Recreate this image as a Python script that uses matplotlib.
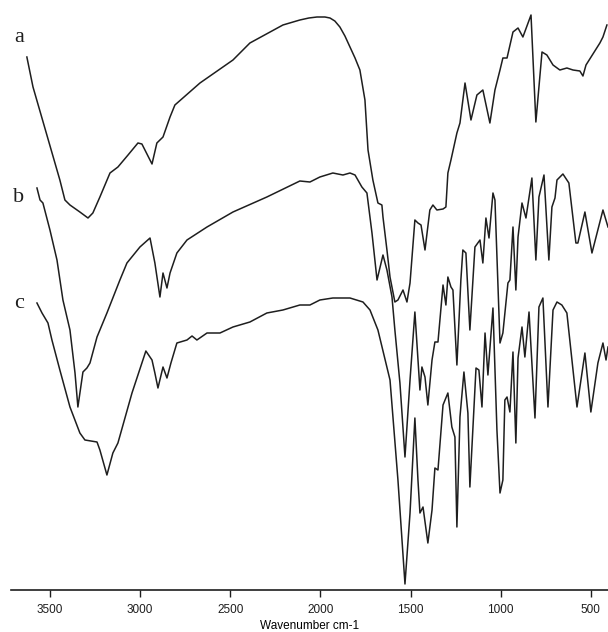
import matplotlib
matplotlib.use("Agg")
import matplotlib.pyplot as plt
import numpy as np

# FTIR spectra, wavenumber (cm-1) and transmittance (arbitrary units, offset)
wn_a = [3628, 3594, 3445, 3417, 3389, 3334, 3289, 3262, 3223, 3167, 3123, 3067,
        3012, 2990, 2934, 2907, 2873, 2834, 2807, 2668, 2485, 2391, 2208, 2114,
        2064, 2019, 1975, 1947, 1920, 1892, 1864, 1836, 1808, 1781, 1753, 1736,
        1709, 1681, 1659, 1653, 1631,
        1614, 1587, 1570, 1542, 1520, 1503, 1476, 1459, 1442, 1420, 1393, 1376,
        1354, 1320, 1304, 1293, 1276, 1243, 1226, 1198, 1165, 1132, 1099, 1060,
        1032, 1004, 988, 965, 932, 904, 877, 832, 805, 771, 744, 710, 672, 633,
        599, 561, 544, 527, 450, 433, 411]
t_a = [533, 503, 410, 390, 385, 378, 372, 377, 393, 417, 423, 435,
       447, 446, 426, 447, 453, 473, 485, 507, 530, 547, 565, 570,
       572, 573, 573, 572, 569, 563, 554, 543, 532, 520, 490, 440,
       410, 387, 385, 373, 340,
       313, 288, 290, 300, 288, 307, 370, 367, 365, 340, 380, 385,
       380, 381, 383, 417, 430, 457, 467, 507, 470, 495, 500, 467,
       500, 520, 532, 532, 558, 562, 553, 575, 468, 538, 535, 525, 520, 522,
       520, 519, 514, 525, 547, 553, 565]

wn_b = [3572, 3555, 3539, 3500, 3461, 3428, 3389, 3361, 3345, 3317, 3295, 3278,
        3239, 3184, 3112, 3073, 3001, 2945, 2918, 2890, 2873, 2851, 2834, 2796,
        2740, 2629, 2485, 2297, 2114, 2058, 2003, 1931, 1875, 1836, 1808, 1770,
        1742, 1714, 1686, 1653, 1631, 1603, 1587, 1559, 1531, 1503, 1476, 1448,
        1437, 1420, 1404, 1381, 1365, 1348, 1320, 1304, 1293, 1276, 1265, 1243,
        1221, 1210, 1193, 1171, 1143, 1115, 1099, 1082, 1065, 1043, 1032, 1004,
        988, 960, 949, 932, 916, 904, 882, 860, 827, 805, 788, 760, 733, 716,
        699, 688, 655, 622, 583, 572, 533, 494, 433, 405]
t_b = [402, 390, 387, 360, 330, 290, 260, 217, 183, 218, 222, 227,
       253, 277, 310, 327, 343, 352, 327, 293, 317, 302, 317, 337,
       350, 363, 378, 393, 409, 408, 413, 417, 415, 417, 415, 403,
       397, 357, 310, 335, 320, 293, 260, 207, 133, 210, 278, 200,
       223, 213, 185, 230, 248, 248, 305, 285, 313, 303, 300, 225,
       310, 340, 337, 260, 343, 350, 327, 372, 352, 397, 390, 247,
       257, 307, 310, 363, 300, 353, 387, 372, 412, 330, 393, 415, 330, 383,
       392, 410, 416, 407, 347, 347, 378, 337, 380, 363]

wn_c = [3572, 3544, 3511, 3489, 3445, 3389, 3334, 3306, 3239, 3223, 3184, 3151,
        3123, 3045, 2968, 2934, 2918, 2901, 2873, 2851, 2829, 2796, 2740, 2712,
        2685, 2629, 2557, 2485, 2391, 2297, 2208, 2114, 2058, 2003, 1931, 1836,
        1764, 1725, 1681, 1614, 1570, 1531, 1503, 1476, 1459, 1448, 1431, 1404,
        1381, 1365, 1348, 1320, 1293, 1271, 1254, 1243, 1226, 1204, 1182, 1171,
        1137, 1121, 1104, 1087, 1071, 1043, 1021, 1004, 988, 977, 965, 949, 932,
        916, 904, 882, 866, 843, 810, 788, 766, 738, 710, 688, 661, 633, 577,
        533, 500, 461, 433, 416, 405]
t_c = [287, 277, 267, 250, 220, 183, 157, 150, 148, 140, 115, 137,
       147, 197, 239, 230, 217, 202, 223, 212, 227, 247, 250, 254,
       250, 257, 257, 263, 268, 277, 280, 285, 285, 290, 292, 292,
       288, 280, 260, 210, 110, 6, 77, 172, 110, 77, 83, 47,
       80, 122, 120, 185, 197, 163, 153, 63, 173, 218, 177, 103,
       222, 220, 183, 257, 215, 282, 160, 97, 110, 190, 193, 178, 238,
       147, 232, 263, 233, 278, 172, 283, 292, 183, 280, 288, 285, 277, 183,
       237, 178, 227, 247, 230, 243]

spectra = [("a", wn_a, t_a, 553), ("b", wn_b, t_b, 393), ("c", wn_c, t_c, 287)]
xticks = [3500, 3000, 2500, 2000, 1500, 1000, 500]

fig = plt.figure(figsize=(6.08, 6.32), dpi=100)
ax = fig.add_axes([11 / 608, 42 / 632, 597 / 608, 590 / 632])

for name, wn, t, ylab in spectra:
    ax.plot(wn, t, color="#1e1e1e", lw=1.1)
    ax.text(3645, ylab, name, family="Liberation Serif", fontsize=16,
            ha="right", va="center", color="#1e1e1e")

ax.set_xlim(3716, 405)
ax.set_ylim(0, 590)
ax.set_xticks(xticks)
ax.set_xticklabels([str(v) for v in xticks], family="Liberation Sans", fontsize=8.5)
ax.tick_params(axis="x", direction="out", length=5, width=1.0, pad=5, colors="#1e1e1e")
ax.set_yticks([])
for s in ["top", "right", "left"]:
    ax.spines[s].set_visible(False)
ax.spines["bottom"].set_linewidth(1.2)
ax.spines["bottom"].set_color("#1e1e1e")
ax.set_xlabel("Wavenumber cm-1", family="Liberation Sans", fontsize=8.5, labelpad=3)

fig.savefig("out.png", dpi=100)
